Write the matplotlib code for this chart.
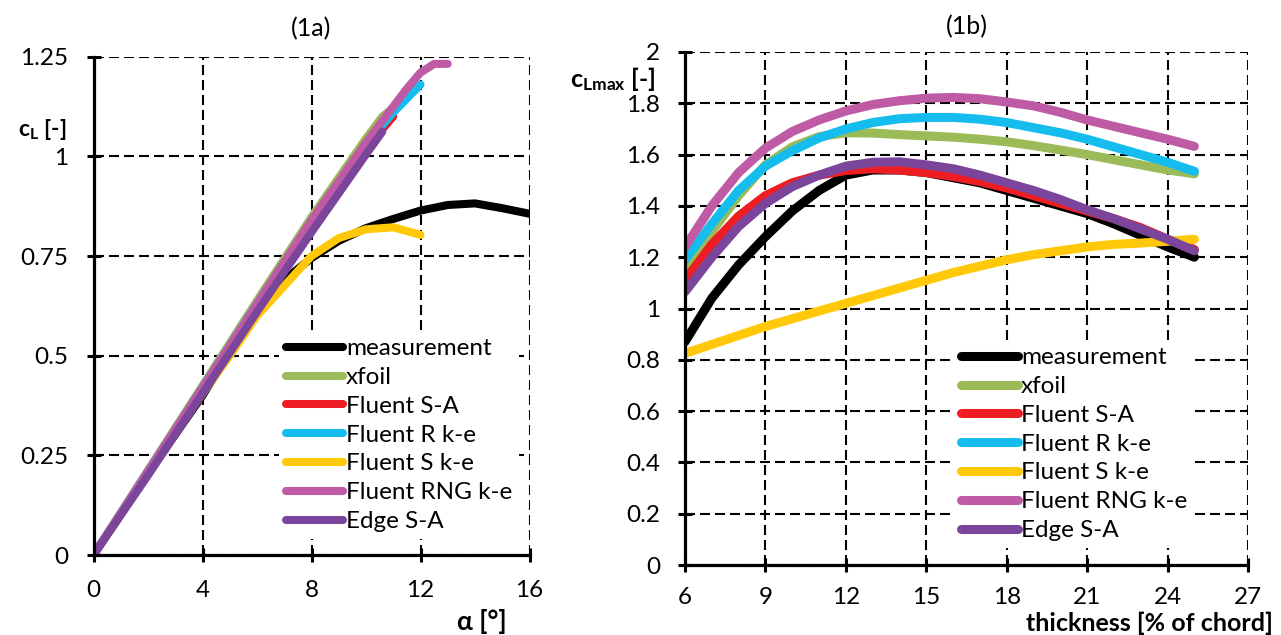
import matplotlib
matplotlib.use("Agg")
import matplotlib.pyplot as plt
from matplotlib.font_manager import FontProperties

plt.rcParams['font.family'] = ['Lato', 'DejaVu Sans']
plt.rcParams['mathtext.fontset'] = 'custom'
plt.rcParams['mathtext.rm'] = 'Lato'
plt.rcParams['mathtext.bf'] = 'Lato:bold'
plt.rcParams['mathtext.it'] = 'Lato:italic'

# ---------------- data (1a): lift coefficient vs angle of attack ----------------
alpha_meas = [0, 2, 4, 5, 6, 7, 8, 9, 10, 11, 12, 13, 14, 15, 16]
cl_meas = [0, 0.205, 0.40, 0.51, 0.62, 0.69, 0.745, 0.788, 0.82, 0.843, 0.864, 0.878, 0.882, 0.870, 0.856]

alpha_xfoil = [0, 2, 4, 6, 8, 10, 10.6, 11.1]
cl_xfoil = [0, 0.213, 0.425, 0.638, 0.848, 1.045, 1.10, 1.127]

alpha_fsa = [0, 2, 4, 6, 8, 10, 11]
cl_fsa = [0, 0.205, 0.41, 0.615, 0.82, 1.02, 1.10]

alpha_frke = [0, 2, 4, 6, 8, 10, 11, 12]
cl_frke = [0, 0.21, 0.42, 0.63, 0.838, 1.03, 1.11, 1.18]

alpha_fske = [0, 2, 4, 5, 6, 7, 8, 9, 10, 11, 12]
cl_fske = [0, 0.205, 0.405, 0.50, 0.60, 0.675, 0.75, 0.795, 0.817, 0.822, 0.803]

alpha_frng = [0, 2, 4, 6, 8, 10, 11, 11.5, 12, 12.5, 13]
cl_frng = [0, 0.21, 0.42, 0.63, 0.84, 1.035, 1.125, 1.17, 1.21, 1.232, 1.232]

alpha_edge = [0, 2, 4, 6, 8, 10, 10.6]
cl_edge = [0, 0.20, 0.405, 0.61, 0.81, 1.005, 1.062]

# ---------------- data (1b): max lift coefficient vs thickness ----------------
thick = [6, 7, 8, 9, 10, 11, 12, 13, 14, 15, 16, 17, 18, 19, 20, 21, 22, 23, 24, 25]
clmax_meas = [0.87, 1.04, 1.17, 1.28, 1.38, 1.46, 1.52, 1.54, 1.54, 1.53, 1.51, 1.49, 1.46, 1.43, 1.40, 1.37, 1.33, 1.285, 1.24, 1.20]
clmax_xfoil = [1.14, 1.30, 1.44, 1.56, 1.63, 1.67, 1.685, 1.684, 1.678, 1.673, 1.668, 1.66, 1.65, 1.635, 1.618, 1.60, 1.58, 1.56, 1.54, 1.525]
clmax_fsa = [1.11, 1.25, 1.36, 1.44, 1.49, 1.52, 1.538, 1.545, 1.54, 1.53, 1.515, 1.495, 1.47, 1.44, 1.41, 1.38, 1.35, 1.315, 1.27, 1.23]
clmax_frke = [1.19, 1.33, 1.46, 1.555, 1.615, 1.665, 1.70, 1.725, 1.74, 1.745, 1.745, 1.738, 1.725, 1.705, 1.685, 1.66, 1.63, 1.60, 1.57, 1.535]
clmax_fske = [0.825, 0.86, 0.895, 0.93, 0.96, 0.99, 1.02, 1.05, 1.08, 1.11, 1.14, 1.165, 1.19, 1.21, 1.225, 1.24, 1.25, 1.255, 1.262, 1.27]
clmax_frng = [1.24, 1.40, 1.53, 1.625, 1.69, 1.735, 1.77, 1.795, 1.81, 1.82, 1.823, 1.818, 1.805, 1.79, 1.765, 1.735, 1.71, 1.685, 1.66, 1.632]
clmax_edge = [1.065, 1.20, 1.32, 1.41, 1.475, 1.52, 1.555, 1.57, 1.572, 1.56, 1.545, 1.52, 1.49, 1.46, 1.425, 1.385, 1.35, 1.31, 1.27, 1.225]

labels = ["measurement", "xfoil", "Fluent S-A", "Fluent R k-e", "Fluent S k-e", "Fluent RNG k-e", "Edge S-A"]
colors = ["#000000", "#9BBB59", "#EE1D23", "#14BDEE", "#FFC808", "#BF5BA5", "#7B459B"]

xticks_a = [0, 4, 8, 12, 16]
yticks_a = [0, 0.25, 0.5, 0.75, 1, 1.25]
yticklabels_a = ["0", "0.25", "0.5", "0.75", "1", "1.25"]
xticks_b = [6, 9, 12, 15, 18, 21, 24, 27]
yticks_b = [0, 0.2, 0.4, 0.6, 0.8, 1.0, 1.2, 1.4, 1.6, 1.8, 2.0]
yticklabels_b = ["0", "0.2", "0.4", "0.6", "0.8", "1", "1.2", "1.4", "1.6", "1.8", "2"]

W, H = 1281, 635
fig = plt.figure(figsize=(W / 100, H / 100), dpi=100)

ax1 = fig.add_axes([93.5 / W, (H - 555) / H, 436 / W, (555 - 56.7) / H])
ax2 = fig.add_axes([685 / W, (H - 565) / H, 563 / W, 513 / H])

series_a = [(alpha_meas, cl_meas), (alpha_xfoil, cl_xfoil), (alpha_fsa, cl_fsa),
            (alpha_frke, cl_frke), (alpha_fske, cl_fske), (alpha_frng, cl_frng),
            (alpha_edge, cl_edge)]
series_b = [clmax_meas, clmax_xfoil, clmax_fsa, clmax_frke, clmax_fske, clmax_frng, clmax_edge]

for (x, y), c, lab in zip(series_a, colors, labels):
    ax1.plot(x, y, color=c, lw=5.8, label=lab, solid_capstyle='round', solid_joinstyle='round', zorder=3)
for y, c, lab in zip(series_b, colors, labels):
    ax2.plot(thick, y, color=c, lw=6.5, label=lab, solid_capstyle='round', solid_joinstyle='round', zorder=3)


def style(ax, xt, yt, ytl, xlim, ylim, xpad):
    ax.set_xlim(*xlim)
    ax.set_ylim(*ylim)
    ax.set_xticks(xt)
    ax.set_xticklabels([str(v) for v in xt])
    ax.set_yticks(yt)
    ax.set_yticklabels(ytl)
    for s in ['top', 'right']:
        ax.spines[s].set_visible(False)
    for s in ['left', 'bottom']:
        ax.spines[s].set_linewidth(2.3)
        ax.spines[s].set_zorder(4)
    ax.grid(True, color='black', lw=1.5, linestyle=(0, (4.8, 2.4)), zorder=1)
    ax.set_axisbelow(True)
    ax.tick_params(axis='both', direction='inout', length=10, width=2.2, labelsize=17.5)
    ax.tick_params(axis='y', pad=13)
    ax.tick_params(axis='x', pad=xpad)


style(ax1, xticks_a, yticks_a, yticklabels_a, (0, 16), (0, 1.25), 13)
style(ax2, xticks_b, yticks_b, yticklabels_b, (6, 27), (0, 2), 11)

ax1.set_title("(1a)", fontsize=18, pad=15)
ax2.set_title("(1b)", fontsize=18, pad=13)

leg_font = FontProperties(family='Lato', size=17.5)
for ax, (lx, ly) in [(ax1, (279 / W, 1 - 331 / H)), (ax2, (954 / W, 1 - 340 / H))]:
    leg = ax.legend(loc='upper left', bbox_to_anchor=(lx, ly), bbox_transform=fig.transFigure,
                    frameon=True, facecolor='white', edgecolor='none', framealpha=1, fancybox=False,
                    borderpad=0.3, borderaxespad=0, handlelength=2.35, handletextpad=0.1,
                    labelspacing=0.32, prop=leg_font)
    leg.set_zorder(5)
    for h in leg.get_lines():
        h.set_solid_capstyle('round')

fig.text(67 / W, 1 - 129 / H, r'$\mathbf{c}_{\mathbf{L}}$ [-]', ha='right', va='center',
         fontsize=16.5, fontweight='bold')
fig.text(656 / W, 1 - 79 / H, r'$\mathbf{c}_{\mathbf{Lmax}}$ [-]', ha='right', va='center',
         fontsize=18, fontweight='bold')
fig.text(507 / W, 1 - 622 / H, "α [°]", ha='right', va='center', fontsize=19, fontweight='bold')
fig.text(1273 / W, 1 - 623 / H, "thickness [% of chord]", ha='right', va='center',
         fontsize=18, fontweight='bold')

fig.savefig("out.png", dpi=100)
